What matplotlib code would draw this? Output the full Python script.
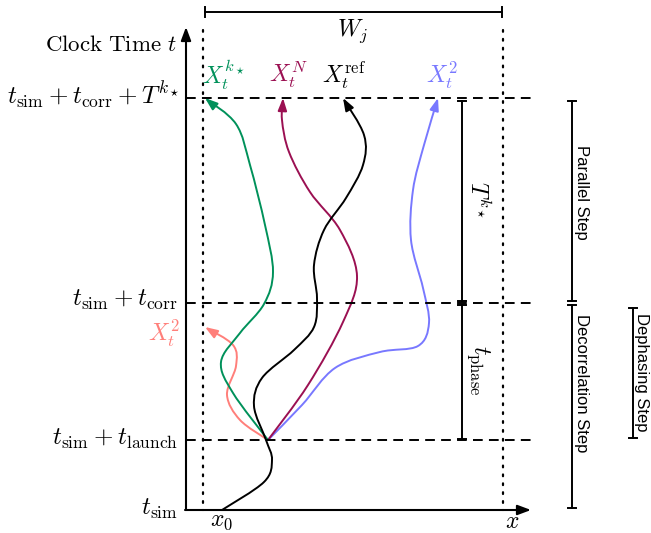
import numpy as np
import matplotlib.pyplot as plt
from matplotlib.path import Path
from matplotlib.patches import FancyArrowPatch

plt.rcParams['mathtext.fontset'] = 'cm'
plt.rcParams['font.family'] = 'DejaVu Serif'

# canvas measured in pixels, y grows downwards
W, H = 651, 533

# clock time levels (rows)
y_sim, y_launch, y_corr, y_top = 510, 440, 303, 98
# spatial marks (columns)
x_axis, x0_col, xend_col = 186, 203, 503
launch = (268, 440)

# trajectories, bottom to top
ref_pts = [(222, 510), (264, 482), (272, 460), (266, 440), (254, 406),
           (262, 378), (294, 350), (314, 327), (317, 298), (314, 265),
           (324, 230), (346, 198), (363, 165), (364, 135), (343, 98)]
kstar_pts = [launch, (233, 393), (221, 362), (240, 333), (264, 304),
             (273, 272), (265, 225), (250, 165), (236, 124), (205, 98)]
n_pts = [launch, (308, 385), (343, 322), (357, 276), (340, 230),
         (310, 192), (289, 152), (282, 120), (283, 98)]
two_pts = [launch, (302, 405), (335, 368), (380, 352), (418, 346),
           (429, 323), (423, 288), (411, 240), (413, 190), (424, 145),
           (438, 98)]
salmon_pts = [launch, (240, 420), (227, 395), (236, 366), (233, 345),
              (205, 327)]

colors = {'ref': 'black', 'kstar': '#00915a', 'N': '#9b1052',
          'two': '#7878ff', 'salmon': '#ff7f7a'}


def smooth_path(pts):
    p = np.asarray(pts, float)
    p = np.vstack([p[0], p, p[-1]])
    verts, codes = [p[1]], [Path.MOVETO]
    for i in range(1, len(p) - 2):
        c1 = p[i] + (p[i + 1] - p[i - 1]) / 6
        c2 = p[i + 1] - (p[i + 2] - p[i]) / 6
        verts += [c1, c2, p[i + 1]]
        codes += [Path.CURVE4] * 3
    return Path(verts, codes)


def vbar(ax, x, y0, y1, cap=4):
    ax.plot([x, x], [y0, y1], color='black', lw=1.4)
    for y in (y0, y1):
        ax.plot([x - cap, x + cap], [y, y], color='black', lw=1.4)


fig = plt.figure(figsize=(W / 100, H / 100), dpi=100)
ax = fig.add_axes([0, 0, 1, 1])
ax.set_xlim(0, W)
ax.set_ylim(H, 0)
ax.axis('off')

# axes with arrows
ax.add_patch(FancyArrowPatch((x_axis, y_sim), (x_axis, 27), arrowstyle='-|>,head_length=0.8,head_width=0.3',
                             mutation_scale=10, color='black', lw=1.5, shrinkA=0, shrinkB=0))
ax.add_patch(FancyArrowPatch((x_axis - 1, y_sim), (531, y_sim), arrowstyle='-|>,head_length=0.8,head_width=0.3',
                             mutation_scale=10, color='black', lw=1.5, shrinkA=0, shrinkB=0))

# dashed time levels
for y in (y_top, y_corr, y_launch):
    ax.plot([x_axis, 531], [y, y], color='black', lw=1.4, dashes=(5, 3.2))

# dotted domain boundaries
for x in (x0_col, xend_col):
    ax.plot([x, x], [30, y_sim], color='black', lw=1.6, dashes=(0.8, 3.2), dash_capstyle='round')

# W_j bracket
ax.plot([205, 502], [12, 12], color='black', lw=1.4)
for x in (205, 502):
    ax.plot([x, x], [7, 17], color='black', lw=1.4)
ax.text(352, 31, r'$W_j$', fontsize=17, ha='center', va='center')

# trajectories
for key, pts in [('salmon', salmon_pts), ('two', two_pts), ('N', n_pts),
                 ('kstar', kstar_pts), ('ref', ref_pts)]:
    ax.add_patch(FancyArrowPatch(path=smooth_path(pts), arrowstyle='-|>,head_length=0.75,head_width=0.27',
                                 mutation_scale=10, color=colors[key], lw=1.4,
                                 shrinkA=0, shrinkB=0))

# left labels
lab = dict(fontsize=18, ha='right', va='center')
ax.text(177, 45, r'$\mathrm{Clock\ Time}\ t$', fontsize=16.5, ha='right', va='center')
ax.text(180, 95, r'$t_{\mathrm{sim}}+t_{\mathrm{corr}}+T^{k_\star}$', **lab)
ax.text(178, 300, r'$t_{\mathrm{sim}}+t_{\mathrm{corr}}$', **lab)
ax.text(180, 333, r'$X_t^2$', color=colors['salmon'], fontsize=17, ha='right', va='center')
ax.text(178, 439, r'$t_{\mathrm{sim}}+t_{\mathrm{launch}}$', **lab)
ax.text(178, 509, r'$t_{\mathrm{sim}}$', **lab)

# axis labels along x
ax.text(222, 521, r'$x_0$', fontsize=17, ha='center', va='center')
ax.text(512, 521, r'$x$', fontsize=17, ha='center', va='center')

# trajectory labels on top
top = dict(fontsize=17, ha='center', va='center')
ax.text(223, 75, r'$X_t^{k_\star}$', color=colors['kstar'], **top)
ax.text(288, 75, r'$X_t^{N}$', color=colors['N'], **top)
ax.text(344, 75, r'$X_t^{\mathrm{ref}}$', color=colors['ref'], **top)
ax.text(442, 75, r'$X_t^{2}$', color=colors['two'], **top)

# right brackets
vbar(ax, 462, 101, 301)
vbar(ax, 462, 305, 439)
ax.text(478, 200, r'$T^{k_\star}$', fontsize=17, rotation=270, ha='center', va='center')
ax.text(478, 370, r'$t_{\mathrm{phase}}$', fontsize=17, rotation=270, ha='center', va='center')

vbar(ax, 572, 101, 301)
vbar(ax, 572, 305, 508)
vbar(ax, 633, 308, 438)
step = dict(fontsize=12, rotation=270, ha='center', va='center', family='Liberation Sans')
ax.text(582, 192, 'Parallel Step', **step)
ax.text(582, 383, 'Decorrelation Step', **step)
ax.text(642, 372, 'Dephasing Step', **step)

fig.savefig('out.png', dpi=100)
